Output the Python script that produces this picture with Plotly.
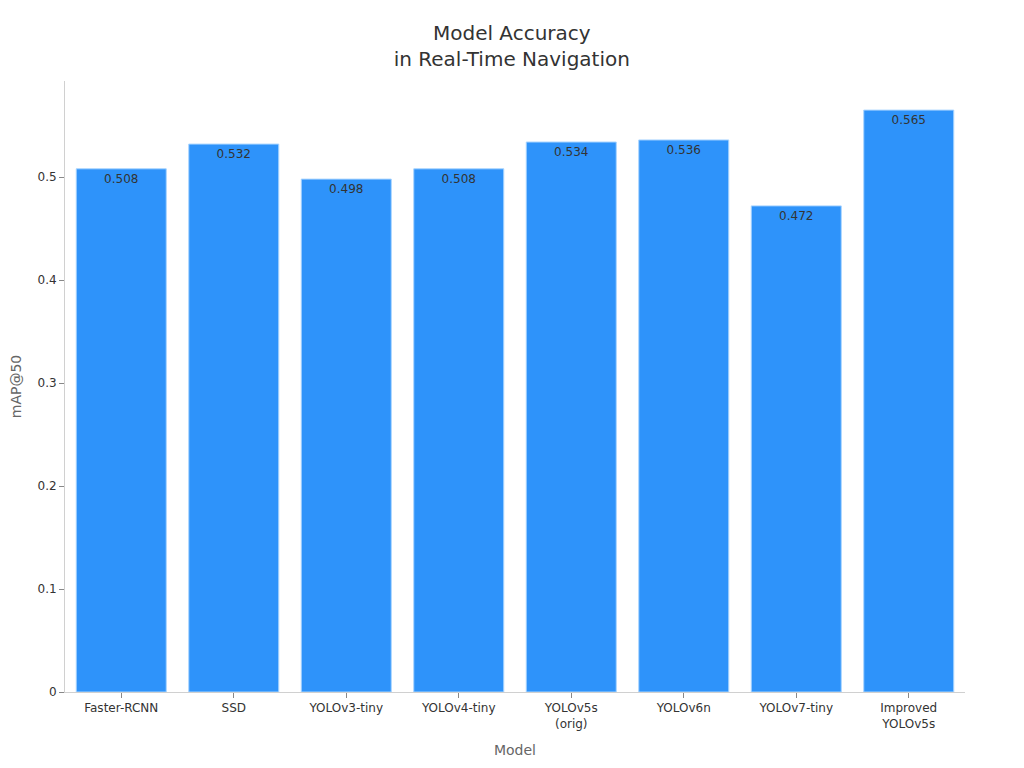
import plotly.graph_objects as go

models = ["Faster-RCNN", "SSD", "YOLOv3-tiny", "YOLOv4-tiny", "YOLOv5s<br>(orig)",
          "YOLOv6n", "YOLOv7-tiny", "Improved<br>YOLOv5s"]
map50 = [0.508, 0.532, 0.498, 0.508, 0.534, 0.536, 0.472, 0.565]
y_ticks = [0, 0.1, 0.2, 0.3, 0.4, 0.5]
y_tick_text = ["0", "0.1", "0.2", "0.3", "0.4", "0.5"]

fig = go.Figure(go.Bar(
    x=models, y=map50,
    text=[f"{v:.3f}" for v in map50],
    textposition="inside", insidetextanchor="end",
    textfont=dict(color="#333333", size=12),
    marker=dict(color="#2E93FA", line=dict(color="#A8D4FF", width=1)),
))

fig.update_layout(
    width=1024, height=768,
    font=dict(family="DejaVu Sans", color="#333333"),
    title=dict(text="Model Accuracy<br>in Real-Time Navigation", x=0.492, xanchor="center",
               y=0.958, yanchor="top", font=dict(size=20, color="#333333")),
    plot_bgcolor="white", paper_bgcolor="white",
    margin=dict(l=57, r=67, t=73, b=84),
    bargap=0.2,
    showlegend=False,
)
fig.update_xaxes(title=dict(text="Model", font=dict(size=14, color="#666666"), standoff=15),
                 showline=True, linecolor="#D0D0D0", ticks="outside", tickcolor="#888888",
                 ticklen=5, tickfont=dict(size=12, color="#333333"), showgrid=False)
fig.update_yaxes(title=dict(text="mAP@50", font=dict(size=14, color="#666666")),
                 automargin=False,
                 range=[0, 0.565 * 1.05], tickvals=y_ticks, ticktext=y_tick_text,
                 showline=True, linecolor="#D0D0D0", ticks="outside", tickcolor="#888888",
                 ticklen=5, tickfont=dict(size=12, color="#333333"), showgrid=False, zeroline=False)

fig.write_html("out.html")
